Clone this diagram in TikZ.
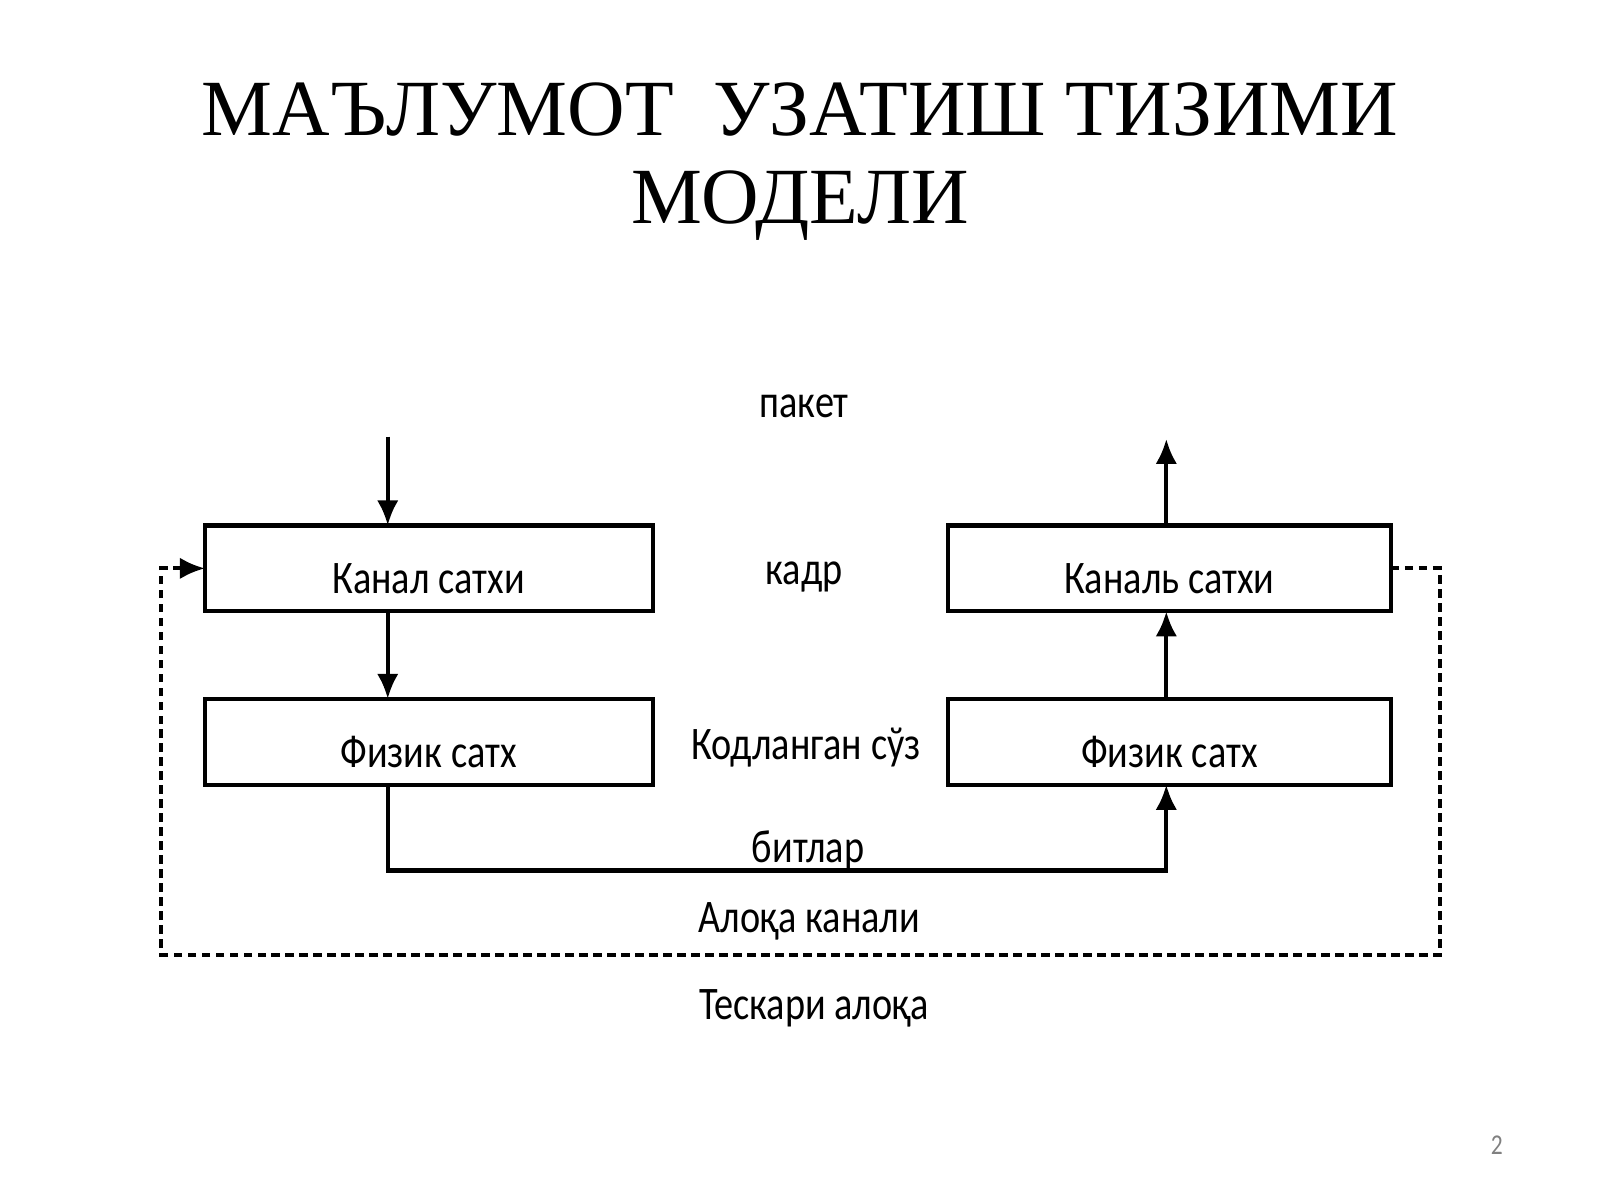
\documentclass[tikz,border=0pt]{standalone}
\usepackage{fontspec}
\setmainfont{Carlito}[FakeStretch=0.82]
\newfontfamily\titlefont{Liberation Serif}
\usetikzlibrary{arrows.meta}
\begin{document}
\begin{tikzpicture}[x=0.01cm,y=-0.01cm,
  lbl/.style={font=\fontsize{13}{15}\selectfont},
  arr/.style={line width=1.2pt,-{Latex[length=7pt,width=6pt]}},
  dsh/.style={line width=1.1pt,dash pattern=on 2.4pt off 1.5pt}]
\useasboundingbox (0,0) rectangle (1568,1176);
\node[font=\titlefont\fontsize{22.2}{24.5}\selectfont,align=center] (title) at (784,158) {МАЪЛУМОТ\ \ УЗАТИШ ТИЗИМИ\\МОДЕЛИ};
\draw[line width=1.2pt] (201,515) rectangle (640,599);
\node[lbl] (k1) at (420,567) {Канал сатхи};
\draw[line width=1.2pt] (201,685) rectangle (640,769);
\node[lbl] (f1) at (420,737) {Физик сатх};
\draw[line width=1.2pt] (929,515) rectangle (1363,599);
\node[lbl] (k2) at (1146,567) {Каналь сатхи};
\draw[line width=1.2pt] (929,685) rectangle (1363,769);
\node[lbl] (f2) at (1146,737) {Физик сатх};
\node[lbl] (p) at (788,398) {пакет};
\node[lbl] (kd) at (788,565) {кадр};
\node[lbl] (ks) at (790,733) {Кодланган сўз};
\node[lbl] (b) at (792,833) {битлар};
\node[lbl] (ak) at (793,903) {Алоқа канали};
\node[lbl] (ta) at (798,988) {Тескари алоқа};
\node[font=\fontsize{8}{9}\selectfont,text=gray] (n) at (1467,1122) {2};
\coordinate (in) at (380,428);
\draw[arr] (in) -- (380,515);
\draw[arr] (380,599) -- (380,685);
\draw[arr] (1143,685) -- (1143,599);
\draw[arr] (1143,515) -- (1143,430);
\draw[arr] (380,769) -- (380,853) -- (1143,853) -- (1143,769);
\draw[dsh] (1363,557) -- (1411,557) -- (1411,936) -- (158,936) -- (158,557) -- (180,557);
\draw[arr] (178,557) -- (201,557);
\end{tikzpicture}
\end{document}
